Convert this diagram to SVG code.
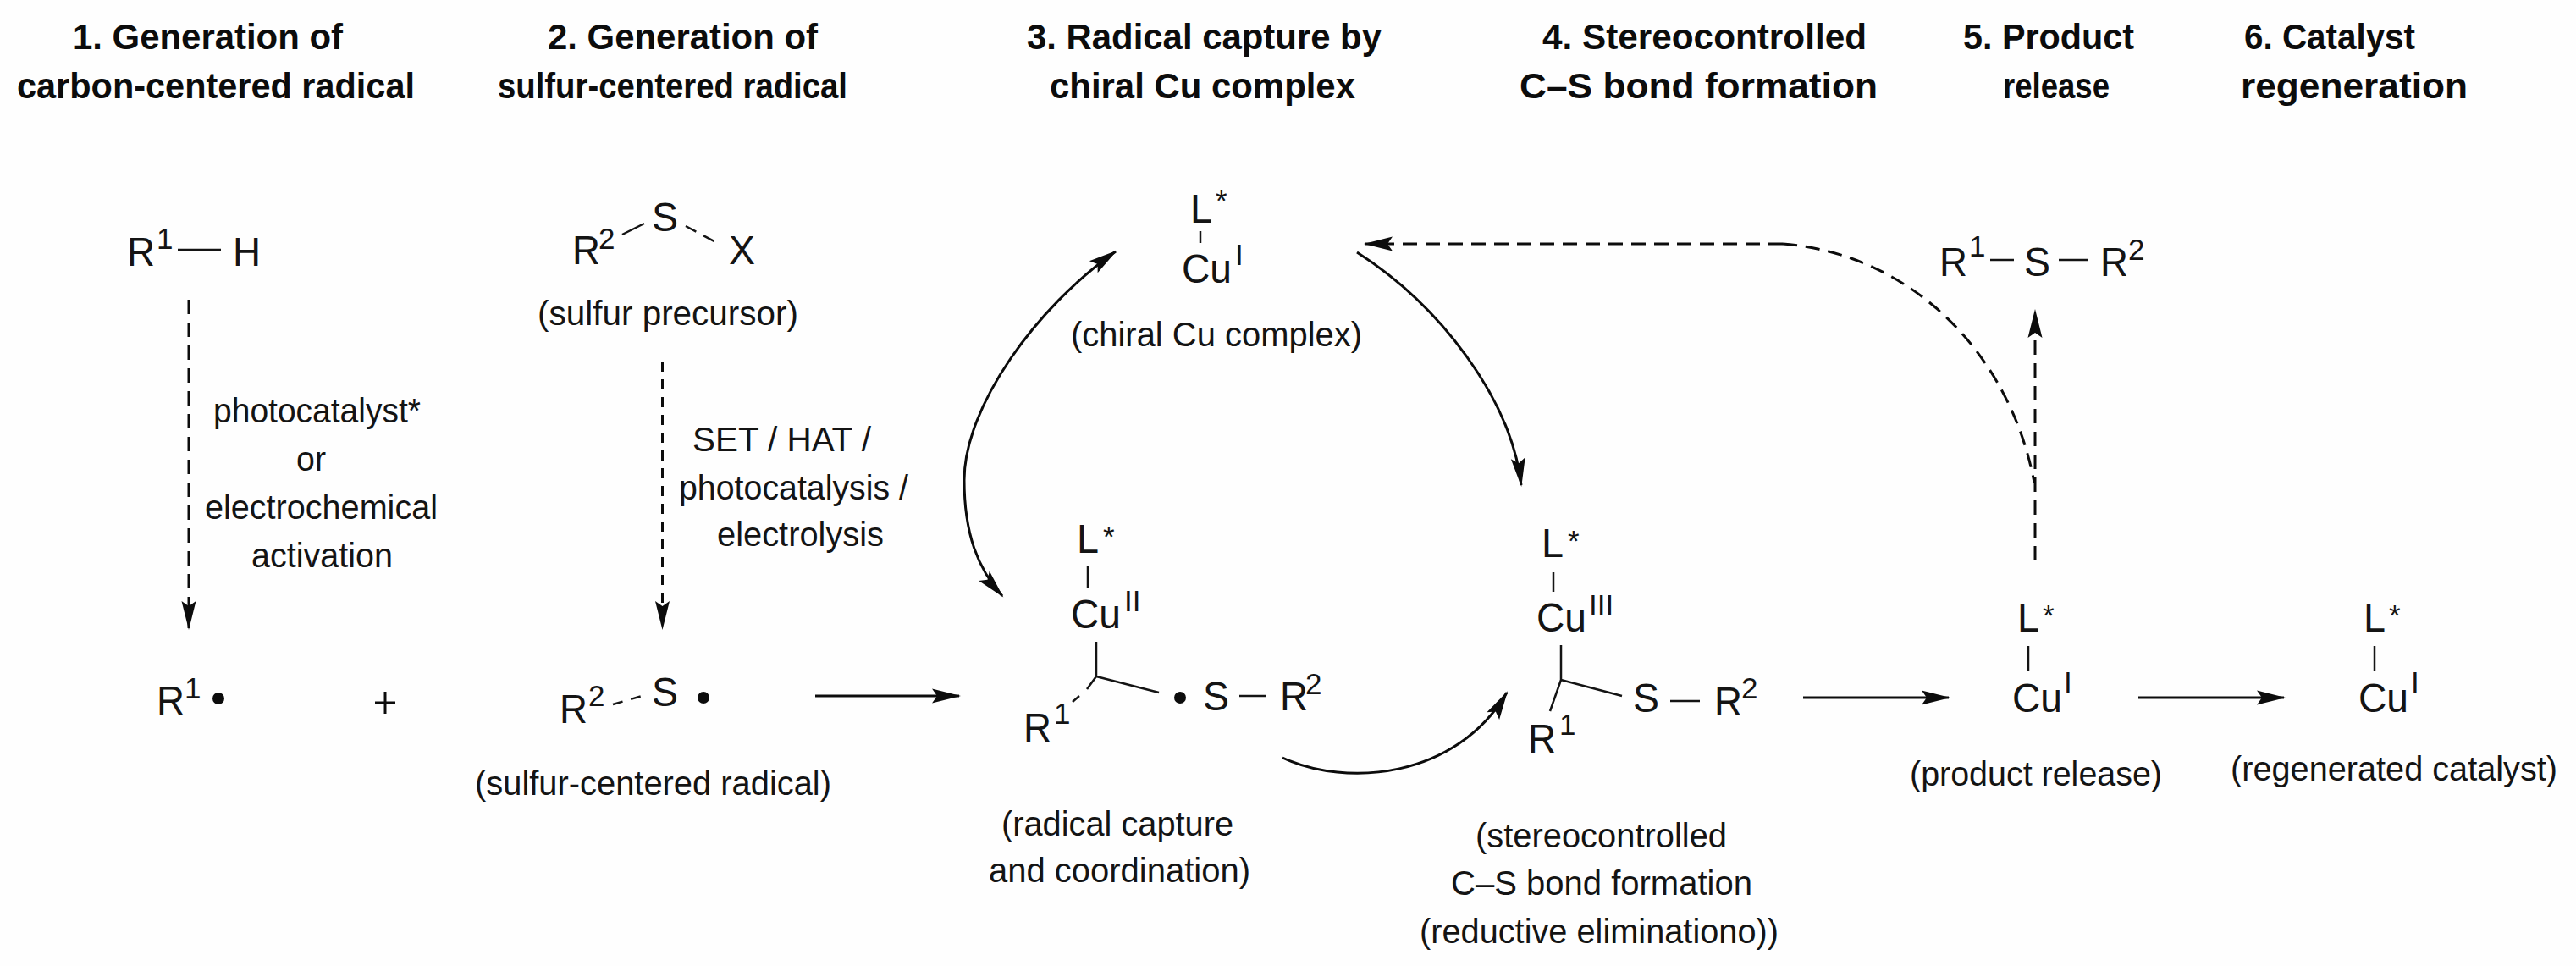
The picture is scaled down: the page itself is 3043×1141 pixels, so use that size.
<svg xmlns="http://www.w3.org/2000/svg" width="3043" height="1141" viewBox="0 0 3043 1141">
<style>
text{font-family:"Liberation Sans",Arial,sans-serif;fill:#141414}
.h{font-size:43px;font-weight:700;fill:#0c0c0c}
.t{font-size:41px}
.a{font-size:48px}
.s{font-size:35px}
.b{stroke:#141414;stroke-width:2.5px;fill:none}
.c{stroke:#0c0c0c;stroke-width:3px;fill:none}
.d{stroke-dasharray:17 10}
.e{stroke-dasharray:12 9}
</style>
<defs>
<marker id="ah" markerUnits="userSpaceOnUse" markerWidth="36" markerHeight="22" viewBox="0 0 36 22" refX="32" refY="11" orient="auto-start-reverse"><path d="M0,2.5L34,11L0,19.5L6,11Z" fill="#0c0c0c"/></marker>
</defs>
<rect width="3043" height="1141" fill="#fefefe"/>
<g id="headers">
<text class="h" x="86" y="58" textLength="319" lengthAdjust="spacingAndGlyphs">1. Generation of</text>
<text class="h" x="20" y="116" textLength="470" lengthAdjust="spacingAndGlyphs">carbon-centered radical</text>
<text class="h" x="647" y="58" textLength="319" lengthAdjust="spacingAndGlyphs">2. Generation of</text>
<text class="h" x="588" y="116" textLength="413" lengthAdjust="spacingAndGlyphs">sulfur-centered radical</text>
<text class="h" x="1213" y="58" textLength="419" lengthAdjust="spacingAndGlyphs">3. Radical capture by</text>
<text class="h" x="1240" y="116" textLength="361" lengthAdjust="spacingAndGlyphs">chiral Cu complex</text>
<text class="h" x="1822" y="58" textLength="383" lengthAdjust="spacingAndGlyphs">4. Stereocontrolled</text>
<text class="h" x="1795" y="116" textLength="423" lengthAdjust="spacingAndGlyphs">C–S bond formation</text>
<text class="h" x="2319" y="58" textLength="202" lengthAdjust="spacingAndGlyphs">5. Product</text>
<text class="h" x="2366" y="116" textLength="126" lengthAdjust="spacingAndGlyphs">release</text>
<text class="h" x="2651" y="58" textLength="202" lengthAdjust="spacingAndGlyphs">6. Catalyst</text>
<text class="h" x="2647" y="116" textLength="268" lengthAdjust="spacingAndGlyphs">regeneration</text>
</g>
<g id="connectors">
<path class="c d" d="M223,354V742" marker-end="url(#ah)"/>
<path class="c e" d="M782.500,427V742" marker-end="url(#ah)"/>
<path class="c" d="M963,822H1133" marker-end="url(#ah)"/>
<path class="c" d="M1318,297C1225,362 1139,480 1139,567C1139,630 1155,672 1184,704" marker-start="url(#ah)" marker-end="url(#ah)"/>
<path class="c" d="M1603,298C1700,360 1785,470 1797,573" marker-end="url(#ah)"/>
<path class="c" d="M1515,895C1590,930 1720,920 1780,818" marker-end="url(#ah)"/>
<path class="c" d="M2130,824H2302" marker-end="url(#ah)"/>
<path class="c" d="M2526,824H2698" marker-end="url(#ah)"/>
<path class="c d" d="M2404,662V367" marker-end="url(#ah)"/>
<path class="c d" d="M2106,288H1613" marker-end="url(#ah)"/>
<path class="c d" d="M2106,288C2260,300 2375,420 2403,570"/>
</g>
<g id="n-r1h">
<text class="a" x="150" y="314" textLength="33" lengthAdjust="spacingAndGlyphs">R</text><text class="s" x="185" y="294">1</text><path class="b" d="M210,295H261"/><text class="a" x="275" y="314" textLength="33" lengthAdjust="spacingAndGlyphs">H</text>
</g>
<g id="label-activation">
<text class="t" x="252" y="499" textLength="245" lengthAdjust="spacingAndGlyphs">photocatalyst*</text>
<text class="t" x="350" y="556" textLength="35" lengthAdjust="spacingAndGlyphs">or</text>
<text class="t" x="242" y="613" textLength="275" lengthAdjust="spacingAndGlyphs">electrochemical</text>
<text class="t" x="297" y="670" textLength="167" lengthAdjust="spacingAndGlyphs">activation</text>
</g>
<g id="n-r2sx">
<text class="a" x="676" y="312" textLength="33" lengthAdjust="spacingAndGlyphs">R</text><text class="s" x="707" y="294">2</text><text class="a" x="770" y="273" textLength="31" lengthAdjust="spacingAndGlyphs">S</text><text class="a" x="861" y="312" textLength="31" lengthAdjust="spacingAndGlyphs">X</text>
<path class="b" d="M735,277L761,264"/><path class="b" stroke-dasharray="14 10" d="M810,267L851,289"/>
<text class="t" x="635" y="384" textLength="308" lengthAdjust="spacingAndGlyphs">(sulfur precursor)</text>
</g>
<g id="label-set">
<text class="t" x="818" y="533" textLength="211" lengthAdjust="spacingAndGlyphs">SET / HAT /</text>
<text class="t" x="802" y="590" textLength="271" lengthAdjust="spacingAndGlyphs">photocatalysis /</text>
<text class="t" x="847" y="645" textLength="197" lengthAdjust="spacingAndGlyphs">electrolysis</text>
</g>
<g id="n-r1rad">
<text class="a" x="185" y="844" textLength="33" lengthAdjust="spacingAndGlyphs">R</text><text class="s" x="218" y="825">1</text><circle cx="258" cy="825" r="7" fill="#0c0c0c"/>
</g>
<g id="n-plus"><path class="c" d="M443,830H467M455,817V843"/></g>
<g id="n-r2srad">
<text class="a" x="661" y="854" textLength="33" lengthAdjust="spacingAndGlyphs">R</text><text class="s" x="695" y="834">2</text><path class="b" stroke-dasharray="12 10" d="M724,832L762,821"/><text class="a" x="770" y="834" textLength="31" lengthAdjust="spacingAndGlyphs">S</text><circle cx="831" cy="824" r="7" fill="#0c0c0c"/>
<text class="t" x="561" y="939" textLength="421" lengthAdjust="spacingAndGlyphs">(sulfur-centered radical)</text>
</g>
<g id="n-cu1-top">
<text class="a" x="1406" y="263" textLength="26" lengthAdjust="spacingAndGlyphs">L</text><text class="s" x="1436" y="249">*</text><path class="b" d="M1418,273V287"/><text class="a" x="1396" y="334" textLength="59" lengthAdjust="spacingAndGlyphs">Cu</text><text class="s" x="1459" y="313">I</text>
<text class="t" x="1265" y="409" textLength="344" lengthAdjust="spacingAndGlyphs">(chiral Cu complex)</text>
</g>
<g id="n-cu2">
<text class="a" x="1272" y="653" textLength="26" lengthAdjust="spacingAndGlyphs">L</text><text class="s" x="1303" y="646">*</text><path class="b" d="M1285,669V694"/><text class="a" x="1265" y="742" textLength="59" lengthAdjust="spacingAndGlyphs">Cu</text><text class="s" x="1328" y="722">II</text>
<path class="b" d="M1295,758V799L1369,818M1295,799L1284,814M1275,822L1267,829"/>
<text class="a" x="1209" y="876" textLength="33" lengthAdjust="spacingAndGlyphs">R</text><text class="s" x="1245" y="855">1</text><circle cx="1394" cy="824" r="7" fill="#0c0c0c"/><text class="a" x="1421" y="839" textLength="31" lengthAdjust="spacingAndGlyphs">S</text><path class="b" d="M1464,822H1496"/><text class="a" x="1512" y="839" textLength="33" lengthAdjust="spacingAndGlyphs">R</text><text class="s" x="1542" y="820">2</text>
<text class="t" x="1183" y="987" textLength="274" lengthAdjust="spacingAndGlyphs">(radical capture</text>
<text class="t" x="1168" y="1042" textLength="309" lengthAdjust="spacingAndGlyphs">and coordination)</text>
</g>
<g id="n-cu3">
<text class="a" x="1821" y="658" textLength="26" lengthAdjust="spacingAndGlyphs">L</text><text class="s" x="1852" y="651">*</text><path class="b" d="M1835,676V699"/><text class="a" x="1815" y="746" textLength="59" lengthAdjust="spacingAndGlyphs">Cu</text><text class="s" x="1877" y="727">III</text>
<path class="b" d="M1844,762V803L1916,822M1844,803L1831,840"/>
<text class="a" x="1805" y="889" textLength="33" lengthAdjust="spacingAndGlyphs">R</text><text class="s" x="1842" y="868">1</text><text class="a" x="1929" y="841" textLength="31" lengthAdjust="spacingAndGlyphs">S</text><path class="b" d="M1973,828H2008"/><text class="a" x="2025" y="845" textLength="33" lengthAdjust="spacingAndGlyphs">R</text><text class="s" x="2057" y="825">2</text>
<text class="t" x="1743" y="1001" textLength="297" lengthAdjust="spacingAndGlyphs">(stereocontrolled</text>
<text class="t" x="1714" y="1057" textLength="356" lengthAdjust="spacingAndGlyphs">C–S bond formation</text>
<text class="t" x="1677" y="1114" textLength="424" lengthAdjust="spacingAndGlyphs">(reductive eliminationo))</text>
</g>
<g id="n-product">
<text class="a" x="2291" y="326" textLength="33" lengthAdjust="spacingAndGlyphs">R</text><text class="s" x="2326" y="303">1</text><path class="b" d="M2351,307H2379"/><text class="a" x="2391" y="326" textLength="31" lengthAdjust="spacingAndGlyphs">S</text><path class="b" d="M2432,307H2466"/><text class="a" x="2481" y="326" textLength="33" lengthAdjust="spacingAndGlyphs">R</text><text class="s" x="2514" y="307">2</text>
</g>
<g id="n-cu1-release">
<text class="a" x="2383" y="746" textLength="26" lengthAdjust="spacingAndGlyphs">L</text><text class="s" x="2413" y="739">*</text><path class="b" d="M2396,763V792"/><text class="a" x="2377" y="841" textLength="59" lengthAdjust="spacingAndGlyphs">Cu</text><text class="s" x="2438" y="818">I</text>
<text class="t" x="2256" y="928" textLength="298" lengthAdjust="spacingAndGlyphs">(product release)</text>
</g>
<g id="n-cu1-regen">
<text class="a" x="2792" y="746" textLength="26" lengthAdjust="spacingAndGlyphs">L</text><text class="s" x="2822" y="739">*</text><path class="b" d="M2805,763V792"/><text class="a" x="2786" y="841" textLength="59" lengthAdjust="spacingAndGlyphs">Cu</text><text class="s" x="2848" y="818">I</text>
<text class="t" x="2635" y="922" textLength="386" lengthAdjust="spacingAndGlyphs">(regenerated catalyst)</text>
</g>
</svg>
